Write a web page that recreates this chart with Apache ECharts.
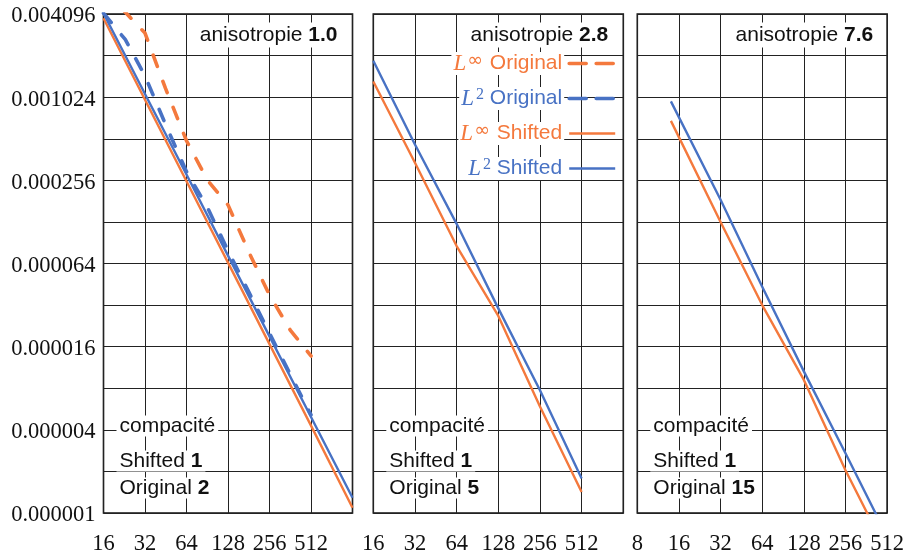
<!DOCTYPE html>
<html>
<head>
<meta charset="utf-8">
<script src="https://cdn.jsdelivr.net/npm/echarts@6/dist/echarts.min.js"></script>
<style>
  html, body { margin: 0; padding: 0; background: #ffffff; }
  #chart { width: 907px; height: 556px; }
</style>
</head>
<body>
<div id="chart"></div>
<script>
// ---- Panel annotations ----
const anisotropies = ['1.0', '2.8', '7.6'];
const compactShifted = ['1', '1', '1'];
const compactOriginal = ['2', '5', '15'];

// ---- Axis ticks ----
const xTicksPanel1 = [16, 32, 64, 128, 256, 512, 1024];
const xTicksPanel2 = [16, 32, 64, 128, 256, 512, 1024];
const xTicksPanel3 = [8, 16, 32, 64, 128, 256, 512];
const xHiddenTicks = [1024];
const yTicks = [0.000001, 0.000002, 0.000004, 0.000008, 0.000016, 0.000032, 0.000064,
                0.000128, 0.000256, 0.000512, 0.001024, 0.002048, 0.004096];
const yLabelledTicks = [0.000001, 0.000004, 0.000016, 0.000064, 0.000256, 0.001024, 0.004096];

// ---- Series names ----
const seriesNames = ['L∞ Original', 'L2 Original', 'L∞ Shifted', 'L2 Shifted'];

// ---- Panel 1 (anisotropie 1.0) ----
const nLinfOriginal1 = [16, 32, 45, 64, 91, 128, 181, 256, 362, 512];
const linfOriginal1 = [6.21e-3, 2.98e-3, 1.19e-3, 4.95e-4, 2.56e-4, 1.70e-4, 7.77e-5, 3.78e-5, 2.11e-5, 1.37e-5];
const nL2Original1 = [16, 23, 32, 45, 64, 91, 128, 181, 256, 362, 512];
const l2Original1 = [4.15e-3, 2.68e-3, 1.46e-3, 6.53e-4, 2.96e-4, 1.62e-4, 7.93e-5, 3.99e-5, 2.00e-5, 1.01e-5, 5.13e-6];
const nShifted1 = [16, 32, 64, 128, 256, 512, 1024];
const linfShifted1 = [3.82e-3, 9.82e-4, 2.52e-4, 6.49e-5, 1.67e-5, 4.29e-6, 1.09e-6];
const l2Shifted1 = [4.15e-3, 1.08e-3, 2.82e-4, 7.30e-5, 1.90e-5, 4.96e-6, 1.29e-6];

// ---- Panel 2 (anisotropie 2.8) ----
const nShifted2 = [16, 32, 64, 128, 256, 512];
const linfShifted2 = [1.33e-3, 3.43e-4, 8.56e-5, 2.67e-5, 5.90e-6, 1.42e-6];
const l2Shifted2 = [1.88e-3, 4.65e-4, 1.24e-4, 3.03e-5, 7.73e-6, 1.78e-6];

// ---- Panel 3 (anisotropie 7.6) ----
const nShifted3 = [14, 32, 64, 128, 256, 512];
const linfShifted3 = [6.90e-4, 1.28e-4, 3.20e-5, 9.19e-6, 2.04e-6, 5.18e-7];
const l2Shifted3 = [9.55e-4, 1.85e-4, 4.34e-5, 1.06e-5, 2.71e-6, 6.78e-7];

// ---- Styling ----
const ORANGE = '#f4793d';
const BLUE = '#4872c4';
const SANS = 'Liberation Sans';
const SERIF = 'Liberation Serif';
const TEXT = '#111111';
const DASHED = { width: 3.6, type: [12, 16], cap: 'round', join: 'round' };
const DASHED_KEY = { width: 3.6, type: [17, 10], cap: 'round', join: 'round' };
const SOLID = { width: 2.4, type: 'solid', cap: 'butt', join: 'round' };

// Both axes are logarithmic in base 2: positions are exponents.
const Y_MIN = yTicks[0];
const lx = n => Math.log2(n);
const ly = v => Math.log2(v / Y_MIN);
const pairs = (ns, vs) => ns.map((n, i) => [lx(n), ly(vs[i])]);
const near = (a, b) => Math.abs(a - b) < 1e-9 * Math.max(1, Math.abs(b));

const grids = [
  { left: 103.5, top: 14, width: 249, height: 499 },
  { left: 373.3, top: 14, width: 250, height: 499 },
  { left: 637.3, top: 14, width: 251, height: 499 }
];
const xTickSets = [xTicksPanel1, xTicksPanel2, xTicksPanel3];

const chart = echarts.init(document.getElementById('chart'), null, { renderer: 'canvas' });

const xAxes = grids.map((g, i) => {
  const ticks = xTickSets[i];
  return {
    type: 'value', gridIndex: i,
    min: lx(ticks[0]), max: lx(ticks[ticks.length - 1]), interval: 1,
    axisLine: { show: false }, axisTick: { show: false },
    splitLine: { show: true, lineStyle: { color: '#222222', width: 1 } },
    axisLabel: {
      margin: 20,
      fontFamily: SERIF, fontSize: 22.5, color: TEXT,
      formatter: v => {
        const t = ticks.find(k => near(lx(k), v));
        if (t === undefined || xHiddenTicks.includes(t)) return '';
        return String(t);
      }
    }
  };
});

const yAxes = grids.map((g, i) => ({
  type: 'value', gridIndex: i,
  min: ly(yTicks[0]), max: ly(yTicks[yTicks.length - 1]), interval: 1,
  axisLine: { show: false }, axisTick: { show: false },
  splitLine: { show: true, lineStyle: { color: '#222222', width: 1 } },
  axisLabel: {
    show: i === 0,
    margin: 8,
    verticalAlign: 'top',
    lineHeight: 5,
    fontFamily: SERIF, fontSize: 22.5, color: TEXT,
    formatter: v => {
      const t = yLabelledTicks.find(k => near(ly(k), v));
      return t === undefined ? '' : t.toFixed(6);
    }
  }
}));

function lineSeries(name, gridIdx, ns, vs, color, dashed) {
  return {
    name: name, type: 'line',
    xAxisIndex: gridIdx, yAxisIndex: gridIdx,
    data: pairs(ns, vs),
    symbol: 'none', showSymbol: false, clip: true, silent: true,
    lineStyle: Object.assign({ color: color }, dashed ? DASHED : SOLID),
    itemStyle: { color: color },
    z: dashed ? 4 : 3
  };
}

const series = [
  lineSeries(seriesNames[2], 0, nShifted1, linfShifted1, ORANGE, false),
  lineSeries(seriesNames[3], 0, nShifted1, l2Shifted1, BLUE, false),
  lineSeries(seriesNames[0], 0, nLinfOriginal1, linfOriginal1, ORANGE, true),
  lineSeries(seriesNames[1], 0, nL2Original1, l2Original1, BLUE, true),
  lineSeries(seriesNames[2], 1, nShifted2, linfShifted2, ORANGE, false),
  lineSeries(seriesNames[3], 1, nShifted2, l2Shifted2, BLUE, false),
  lineSeries(seriesNames[2], 2, nShifted3, linfShifted3, ORANGE, false),
  lineSeries(seriesNames[3], 2, nShifted3, l2Shifted3, BLUE, false)
];

// Legend labels: italic L with a raised exponent, then the method name
const legendRich = {};
[['o', ORANGE], ['b', BLUE]].forEach(([k, c]) => {
  legendRich['L' + k] = { fontFamily: SERIF, fontStyle: 'italic', fontSize: 23, color: c };
  legendRich['I' + k] = { fontFamily: 'DejaVu Sans', fontSize: 19, color: c, verticalAlign: 'top', padding: [0, 1, 0, 1] };
  legendRich['S' + k] = { fontFamily: SERIF, fontSize: 16, color: c, verticalAlign: 'top', padding: [0, 0, 0, 2] };
  legendRich['T' + k] = { fontFamily: SANS, fontSize: 21, color: c };
});
const isLinf = name => name.indexOf('L∞') === 0;
function legendText(name) {
  const k = isLinf(name) ? 'o' : 'b';
  const supTag = isLinf(name) ? 'I' : 'S';
  const sup = isLinf(name) ? '∞' : '2';
  return '{L' + k + '|L}{' + supTag + k + '|' + sup + '}{T' + k + '|' + name.slice(2) + '}';
}

// Annotations inside each panel
const graphics = [];
grids.forEach((g, i) => {
  graphics.push({
    type: 'text', x: g.left + g.width - 13, y: g.top + 21, z: 10,
    style: {
      text: '{n|anisotropie }{b|' + anisotropies[i] + '}',
      align: 'right', verticalAlign: 'middle',
      backgroundColor: '#ffffff', padding: [2, 2, 2, 2],
      rich: {
        n: { fontFamily: SANS, fontSize: 21, fill: TEXT },
        b: { fontFamily: SANS, fontSize: 21, fontWeight: 'bold', fill: TEXT }
      }
    }
  });
  const rows = [
    '{n|compacité}',
    '{n|Shifted }{b|' + compactShifted[i] + '}',
    '{n|Original }{b|' + compactOriginal[i] + '}'
  ];
  const offsets = [87, 52, 25];
  rows.forEach((r, j) => {
    graphics.push({
      type: 'text', x: g.left + 13, y: g.top + g.height - offsets[j], z: 10,
      style: {
        text: r, align: 'left', verticalAlign: 'middle',
        backgroundColor: '#ffffff', padding: [0, 3, 0, 3],
        rich: {
          n: { fontFamily: SANS, fontSize: 21, fill: TEXT },
          b: { fontFamily: SANS, fontSize: 21, fontWeight: 'bold', fill: TEXT }
        }
      }
    });
  });
});

chart.setOption({
  animation: false,
  backgroundColor: '#ffffff',
  grid: grids.map(g => Object.assign({ show: true, borderColor: '#111111', borderWidth: 1.6, backgroundColor: 'transparent' }, g)),
  xAxis: xAxes,
  yAxis: yAxes,
  legend: {
    orient: 'vertical',
    right: 907 - 617 - 5,
    top: 47,
    align: 'right',
    itemWidth: 46,
    itemHeight: 12,
    itemGap: 12,
    selectedMode: false,
    z: 10,
    itemStyle: { opacity: 0 },
    textStyle: {
      fontFamily: SANS, fontSize: 21,
      backgroundColor: '#ffffff', padding: [0, 2, 0, 2],
      rich: legendRich
    },
    formatter: legendText,
    data: seriesNames.map(n => ({
      name: n,
      textStyle: { color: isLinf(n) ? ORANGE : BLUE },
      itemStyle: { opacity: 0 },
      lineStyle: Object.assign({ color: isLinf(n) ? ORANGE : BLUE }, n.indexOf('Original') > 0 ? DASHED_KEY : SOLID)
    }))
  },
  graphic: graphics,
  series: series
});
</script>
</body>
</html>
